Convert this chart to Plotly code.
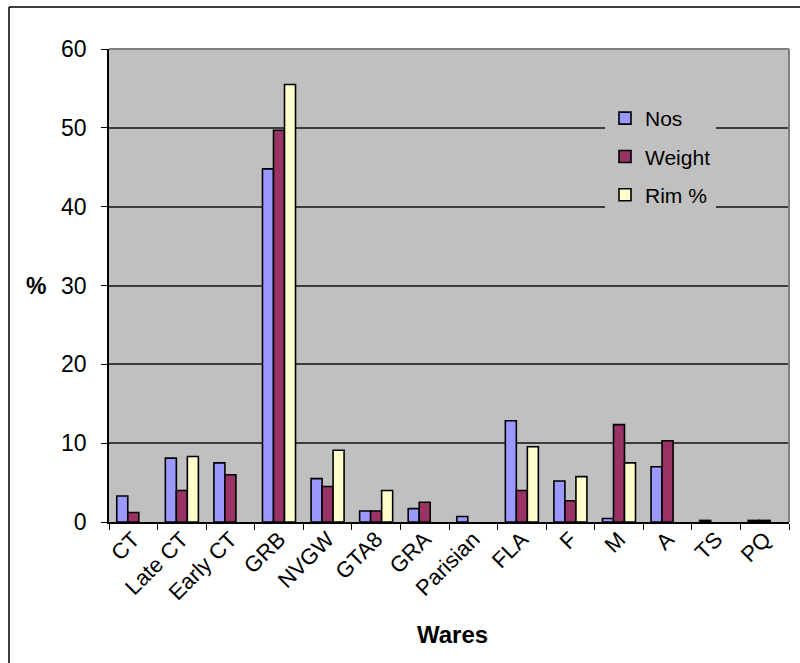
import plotly.graph_objects as go

# Ware categories and percentage shares
wares = ["CT", "Late CT", "Early CT", "GRB", "NVGW", "GTA8", "GRA",
         "Parisian", "FLA", "F", "M", "A", "TS", "PQ"]
nos = [3.3, 8.1, 7.5, 44.8, 5.5, 1.4, 1.7, 0.7, 12.85, 5.2, 0.45, 7.0, 0.2, 0.2]
weight = [1.2, 4.0, 6.0, 49.7, 4.5, 1.4, 2.5, None, 4.0, 2.7, 12.35, 10.3, None, 0.2]
rim = [None, 8.3, None, 55.5, 9.1, 4.0, None, None, 9.55, 5.75, 7.5, None, None, None]
y_ticks = [0, 10, 20, 30, 40, 50, 60]

FONT = "Liberation Sans, Arial, sans-serif"
W, H = 800, 663
L, R, T, B = 109, 11, 49, 141
pw, ph = W - L - R, H - T - B


def px_x(x):
    return (x - L) / pw


def px_y(y):
    return (H - B - y) / ph


fig = go.Figure()
series = [("Nos", nos, "#9999FF"), ("Weight", weight, "#993366"), ("Rim %", rim, "#FFFFCC")]
for i, (name, vals, col) in enumerate(series):
    fig.add_trace(go.Bar(
        x=wares, y=vals, name=name, legendgroup=f"g{i}",
        marker=dict(color=col, line=dict(color="black", width=1.6)),
    ))

fig.update_layout(
    width=W, height=H,
    margin=dict(l=L, r=R, t=T, b=B),
    paper_bgcolor="white",
    plot_bgcolor="#C0C0C0",
    barmode="group", bargap=0.32, bargroupgap=0,
    font=dict(family=FONT, color="black", size=20),
    showlegend=True,
    legend=dict(
        x=px_x(605), y=px_y(98), xanchor="left", yanchor="top",
        bgcolor="#C0C0C0", borderwidth=0,
        font=dict(size=21, family=FONT),
        tracegroupgap=8, itemwidth=30,
    ),
    xaxis=dict(
        type="category", tickangle=-45, tickfont=dict(size=22),
        ticklabelstandoff=-6,
        showline=True, linecolor="black", linewidth=1.5,
        ticks="outside", ticklen=6, tickcolor="black", tickson="boundaries",
        showgrid=False, range=[-0.5, len(wares) - 0.5],
    ),
    yaxis=dict(
        range=[0, 60], tickvals=y_ticks, ticktext=[str(v) for v in y_ticks],
        tickfont=dict(size=23), ticklabelstandoff=10,
        showline=True, linecolor="black", linewidth=1.5,
        ticks="outside", ticklen=6, tickcolor="black",
        showgrid=True, gridcolor="#3c3c3c", gridwidth=1.5,
        zeroline=False,
    ),
    annotations=[
        dict(text="<b>%</b>", x=px_x(48), y=0.5, xref="paper", yref="paper",
             xanchor="right", showarrow=False, font=dict(size=23, family=FONT)),
        dict(text="<b>Wares</b>", x=px_x(452), y=px_y(650), xref="paper", yref="paper",
             showarrow=False, font=dict(size=24, family=FONT)),
    ],
    shapes=[
        # plot area border (top and right)
        dict(type="line", xref="paper", yref="paper", x0=0, x1=1, y0=1, y1=1,
             line=dict(color="#808080", width=2)),
        dict(type="line", xref="paper", yref="paper", x0=1, x1=1, y0=0, y1=1,
             line=dict(color="#808080", width=2)),
        # chart frame
        dict(type="line", xref="paper", yref="paper", x0=px_x(9), x1=px_x(800),
             y0=px_y(7), y1=px_y(7), line=dict(color="black", width=1.5)),
        dict(type="line", xref="paper", yref="paper", x0=px_x(9), x1=px_x(9),
             y0=px_y(7), y1=px_y(663), line=dict(color="black", width=1.5)),
    ],
)

fig.write_html("out.html")
